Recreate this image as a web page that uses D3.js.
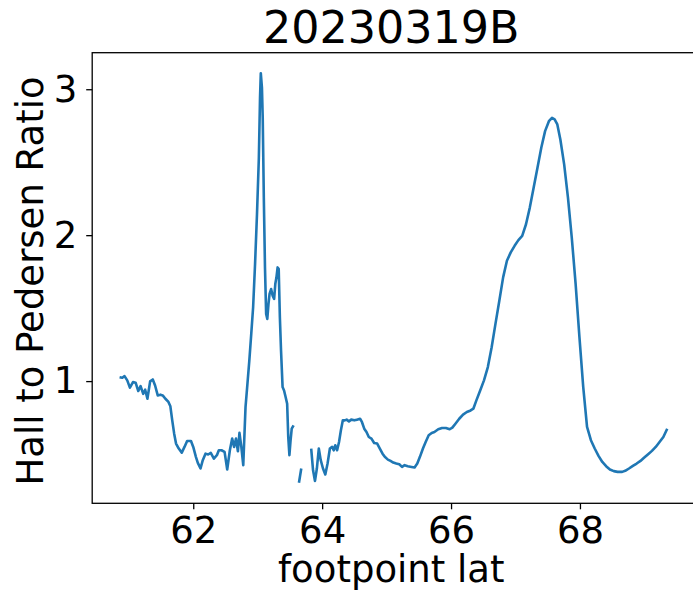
<!DOCTYPE html>
<html>
<head>
<meta charset="utf-8">
<script src="https://cdn.jsdelivr.net/npm/d3@7"></script>
<style>
  html, body { margin: 0; padding: 0; background: #fff; }
  svg { display: block; font-family: "DejaVu Sans", sans-serif; }
</style>
</head>
<body>
<svg id="chart" width="693" height="592"></svg>
<script>
// Footpoint latitude (deg); null marks a break in the trace
const lat = [
  60.857, 60.899, 60.934, 60.976, 61.017, 61.065, 61.106, 61.147, 61.183, 61.224,
  61.254, 61.289, 61.331, 61.372, 61.408, 61.449, 61.491, 61.526, 61.568, 61.615,
  61.645, 61.674, 61.704, 61.733, 61.775, 61.822, 61.864, 61.905, 61.965, 62.000,
  62.041, 62.071, 62.113, 62.148, 62.190, 62.231, 62.272, 62.320, 62.367, 62.397,
  62.438, 62.486, 62.527, 62.568, 62.604, 62.634, 62.663, 62.693, 62.717, 62.746,
  62.776, 62.811, 62.841, 62.870, 62.900, 62.929, 62.959, 62.989, 63.018, 63.036,
  63.048, 63.066, 63.078, 63.095, 63.113, 63.131, 63.149, 63.167, 63.184, 63.208,
  63.232, 63.255, 63.273, 63.291, 63.309, 63.326, 63.344, 63.362, 63.386, 63.409,
  63.433, 63.457, 63.474, 63.492, 63.510, 63.528, 63.557,
  null,
  63.640, 63.676,
  null,
  63.830, 63.859, 63.889, 63.918, 63.948, 63.978, 64.013, 64.049, 64.084, 64.120,
  64.155, 64.179, 64.203, 64.232, 64.262, 64.291, 64.321, 64.351, 64.380, 64.416,
  64.451, 64.499, 64.540, 64.588, 64.617, 64.653, 64.688, 64.724, 64.765, 64.807,
  64.854, 64.895, 64.937, 64.972, 65.020, 65.061, 65.103, 65.150, 65.197, 65.239,
  65.280, 65.328, 65.387, 65.434, 65.476, 65.517, 65.564, 65.606, 65.653, 65.700,
  65.742, 65.801, 65.860, 65.920, 65.979, 66.020, 66.068, 66.127, 66.186, 66.245,
  66.304, 66.346, 66.393, 66.452, 66.511, 66.571, 66.630, 66.689, 66.749, 66.808,
  66.867, 66.926, 66.986, 67.045, 67.104, 67.163, 67.222, 67.282, 67.341, 67.400,
  67.459, 67.518, 67.566, 67.607, 67.649, 67.696, 67.755, 67.814, 67.873, 67.933,
  67.992, 68.051, 68.110, 68.170, 68.229, 68.288, 68.347, 68.406, 68.465, 68.525,
  68.584, 68.655, 68.702, 68.761, 68.821, 68.880, 68.939, 68.998, 69.058, 69.117,
  69.176, 69.235, 69.294, 69.354
];

// Hall to Pedersen conductance ratio at each latitude
const ratio = [
  1.027, 1.023, 1.034, 1.005, 0.955, 0.993, 0.989, 0.932, 0.966, 0.913,
  0.941, 0.879, 0.998, 1.011, 0.970, 0.902, 0.907, 0.902, 0.879, 0.857,
  0.827, 0.731, 0.640, 0.572, 0.538, 0.510, 0.549, 0.590, 0.590, 0.549,
  0.481, 0.440, 0.401, 0.458, 0.503, 0.497, 0.508, 0.469, 0.492, 0.526,
  0.526, 0.515, 0.394, 0.526, 0.606, 0.549, 0.606, 0.519, 0.645, 0.549,
  0.424, 0.822, 0.982, 1.141, 1.323, 1.506, 1.802, 2.143, 2.531, 2.941,
  3.110, 3.009, 2.804, 2.257, 1.779, 1.460, 1.426, 1.528, 1.597, 1.631,
  1.585, 1.563, 1.665, 1.711, 1.779, 1.768, 1.437, 1.210, 0.959, 0.936,
  0.891, 0.845, 0.617, 0.492, 0.594, 0.674, 0.697,
  null,
  0.303, 0.401,
  null,
  0.538, 0.389, 0.316, 0.401, 0.538, 0.458, 0.401, 0.360, 0.435, 0.538,
  0.549, 0.526, 0.560, 0.526, 0.583, 0.663, 0.731, 0.731, 0.736, 0.724,
  0.736, 0.731, 0.736, 0.742, 0.720, 0.674, 0.651, 0.617, 0.606, 0.576,
  0.572, 0.538, 0.503, 0.481, 0.462, 0.453, 0.442, 0.435, 0.430, 0.412,
  0.424, 0.417, 0.412, 0.408, 0.435, 0.481, 0.538, 0.583, 0.629, 0.645,
  0.651, 0.670, 0.679, 0.679, 0.670, 0.681, 0.708, 0.742, 0.770, 0.788,
  0.799, 0.811, 0.868, 0.936, 1.005, 1.096, 1.232, 1.392, 1.551, 1.711,
  1.825, 1.882, 1.927, 1.966, 1.995, 2.075, 2.189, 2.326, 2.462, 2.599,
  2.713, 2.781, 2.804, 2.793, 2.759, 2.656, 2.485, 2.257, 1.984, 1.665,
  1.301, 0.959, 0.686, 0.595, 0.538, 0.488, 0.446, 0.417, 0.394, 0.383,
  0.378, 0.378, 0.385, 0.401, 0.419, 0.435, 0.453, 0.476, 0.499, 0.522,
  0.549, 0.583, 0.617, 0.674
];

const xTicks = [62, 64, 66, 68];
const yTicks = [1, 2, 3];
const titleText = "20230319B";
const xLabel = "footpoint lat";
const yLabel = "Hall to Pedersen Ratio";

const svg = d3.select("#chart");
const plot = { left: 92.2, right: 694.6, top: 52.7, bottom: 503.3 };
const baseFont = 37;
const lineColor = "#1f77b4";

// Axis limits padded 5% beyond the data, matplotlib style
const xs = lat.filter(v => v !== null);
const ys = ratio.filter(v => v !== null);
const [xMin, xMax] = d3.extent(xs);
const [yMin, yMax] = d3.extent(ys);
const xPad = (xMax - xMin) * 0.05;
const yPad = (yMax - yMin) * 0.05;

const x = d3.scaleLinear().domain([xMin - xPad, xMax + xPad]).range([plot.left, plot.right]);
const y = d3.scaleLinear().domain([yMin - yPad, yMax + yPad]).range([plot.bottom, plot.top]);

const points = lat.map((v, i) => ({ lat: v, ratio: ratio[i] }));

const line = d3.line()
  .defined(d => d.lat !== null && d.ratio !== null)
  .x(d => x(d.lat))
  .y(d => y(d.ratio));

svg.append("path")
  .datum(points)
  .attr("fill", "none")
  .attr("stroke", lineColor)
  .attr("stroke-width", 2.6)
  .attr("stroke-linejoin", "round")
  .attr("stroke-linecap", "butt")
  .attr("d", line);

// Frame
svg.append("rect")
  .attr("x", plot.left)
  .attr("y", plot.top)
  .attr("width", plot.right - plot.left)
  .attr("height", plot.bottom - plot.top)
  .attr("fill", "none")
  .attr("stroke", "#000")
  .attr("stroke-width", 1.3);

// X axis
const xAxis = svg.append("g")
  .attr("transform", `translate(0,${plot.bottom})`)
  .call(d3.axisBottom(x).tickValues(xTicks).tickFormat(d3.format("d")).tickSize(6).tickPadding(7));
xAxis.select(".domain").remove();
xAxis.selectAll(".tick line").attr("stroke", "#000").attr("stroke-width", 1.3);
xAxis.selectAll(".tick text")
  .attr("font-family", "DejaVu Sans, sans-serif")
  .attr("font-size", baseFont)
  .attr("fill", "#000");

// Y axis
const yAxis = svg.append("g")
  .attr("transform", `translate(${plot.left},0)`)
  .call(d3.axisLeft(y).tickValues(yTicks).tickFormat(d3.format("d")).tickSize(6).tickPadding(9));
yAxis.select(".domain").remove();
yAxis.selectAll(".tick line").attr("stroke", "#000").attr("stroke-width", 1.3);
yAxis.selectAll(".tick text")
  .attr("font-family", "DejaVu Sans, sans-serif")
  .attr("font-size", baseFont)
  .attr("fill", "#000");

// Title and axis labels
const cx = (plot.left + 690.4) / 2;
svg.append("text")
  .attr("x", cx)
  .attr("y", 43)
  .attr("text-anchor", "middle")
  .attr("font-size", baseFont * 1.2)
  .attr("fill", "#000")
  .text(titleText);

svg.append("text")
  .attr("x", cx)
  .attr("y", 582)
  .attr("text-anchor", "middle")
  .attr("font-size", baseFont)
  .attr("fill", "#000")
  .text(xLabel);

svg.append("text")
  .attr("transform", `translate(43,${(plot.top + plot.bottom) / 2 + 3}) rotate(-90)`)
  .attr("text-anchor", "middle")
  .attr("font-size", baseFont)
  .attr("fill", "#000")
  .text(yLabel);
</script>
</body>
</html>
